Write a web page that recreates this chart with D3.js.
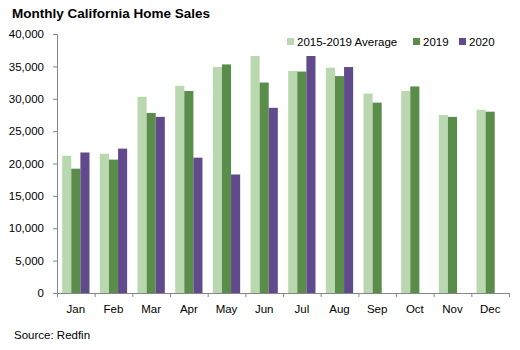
<!DOCTYPE html>
<html>
<head>
<meta charset="utf-8">
<script src="https://cdn.jsdelivr.net/npm/d3@7"></script>
<style>
  body { margin: 0; background: #fff; }
  text { font-family: "Liberation Sans", Arial, sans-serif; fill: #000; }
</style>
</head>
<body>
<script>
// data
var months = ["Jan","Feb","Mar","Apr","May","Jun","Jul","Aug","Sep","Oct","Nov","Dec"];
var avg1519 = [21200,21500,30300,32000,34900,36600,34300,34800,30800,31200,27500,28300];
var sales2019 = [19200,20600,27800,31200,35300,32500,34200,33500,29400,31900,27200,28000];
var sales2020 = [21700,22300,27200,20900,18300,28600,36600,34900,null,null,null,null];
var seriesNames = ["2015-2019 Average","2019","2020"];
var yTicks = [0,5000,10000,15000,20000,25000,30000,35000,40000];

var colors = ["#b9d8b0","#5a8c4a","#614a8c"];

var width = 520, height = 350;
var margin = {top: 34, right: 11, bottom: 57, left: 57};
var graphWidth = width - margin.left - margin.right;
var graphHeight = height - margin.top - margin.bottom;

var svg = d3.select("body").append("svg")
    .attr("width", width)
    .attr("height", height);

var graph = svg.append("g")
    .attr("transform", "translate(" + margin.left + "," + margin.top + ")");

var x = d3.scaleBand()
    .domain(months)
    .range([0, graphWidth])
    .paddingInner(0)
    .paddingOuter(0);

var xInner = d3.scaleBand()
    .domain(seriesNames)
    .range([0, x.bandwidth()])
    .paddingOuter(0.57)
    .paddingInner(0);

var y = d3.scaleLinear()
    .domain([0, 40000])
    .range([graphHeight, 0]);

var rows = months.map(function(m, i) {
    return {month: m, vals: [avg1519[i], sales2019[i], sales2020[i]]};
});

var groups = graph.selectAll(".grp")
    .data(rows)
    .enter()
    .append("g")
    .attr("transform", function(d) { return "translate(" + x(d.month) + ",0)"; });

groups.selectAll("rect")
    .data(function(d) {
        return d.vals.map(function(v, j) { return {name: seriesNames[j], v: v, j: j}; })
            .filter(function(e) { return e.v != null; });
    })
    .enter()
    .append("rect")
    .attr("x", function(d) { return xInner(d.name); })
    .attr("y", function(d) { return y(d.v); })
    .attr("width", xInner.bandwidth())
    .attr("height", function(d) { return graphHeight - y(d.v); })
    .attr("fill", function(d) { return colors[d.j]; });

// axes
var yAxis = d3.axisLeft(y)
    .tickValues(yTicks)
    .tickSize(4)
    .tickPadding(9)
    .tickFormat(d3.format(","));

var yAxisGroup = graph.append("g").call(yAxis);

var xAxis = d3.axisBottom(x)
    .tickSize(0)
    .tickPadding(12);

var xAxisGroup = graph.append("g")
    .attr("transform", "translate(0," + graphHeight + ")")
    .call(xAxis);

// tick marks at band boundaries
xAxisGroup.selectAll(".bound")
    .data(months.concat(["end"]))
    .enter()
    .append("line")
    .attr("x1", function(d, i) { return i * x.step() + 0.5; })
    .attr("x2", function(d, i) { return i * x.step() + 0.5; })
    .attr("y1", 0)
    .attr("y2", 4)
    .attr("stroke", "#868686");

[yAxisGroup, xAxisGroup].forEach(function(g) {
    g.select(".domain").attr("stroke", "#868686");
    g.selectAll(".tick line").attr("stroke", "#868686");
    g.selectAll(".tick text")
        .attr("font-size", "11.5px")
        .attr("font-family", "'Liberation Sans', Arial, sans-serif")
        .attr("fill", "#000");
});
yAxisGroup.select(".domain").attr("d", "M-4," + (graphHeight + 0.5) + "H0.5V0.5H-4");
xAxisGroup.select(".domain").attr("d", "M0.5,0.5H" + (graphWidth + 0.5));

// title
svg.append("text")
    .attr("x", 12)
    .attr("y", 18)
    .attr("font-size", "13.5px")
    .attr("font-weight", "bold")
    .text("Monthly California Home Sales");

// legend
var legendX = [287, 413, 459];
var legend = svg.selectAll(".leg")
    .data(seriesNames)
    .enter()
    .append("g")
    .attr("transform", function(d, i) { return "translate(" + legendX[i] + ",38)"; });

legend.append("rect")
    .attr("width", 7)
    .attr("height", 7)
    .attr("fill", function(d, i) { return colors[i]; });

legend.append("text")
    .attr("x", 10)
    .attr("y", 8)
    .attr("font-size", "11.5px")
    .text(function(d) { return d; });

// source
svg.append("text")
    .attr("x", 14)
    .attr("y", 339)
    .attr("font-size", "11.5px")
    .text("Source: Redfin");
</script>
</body>
</html>
